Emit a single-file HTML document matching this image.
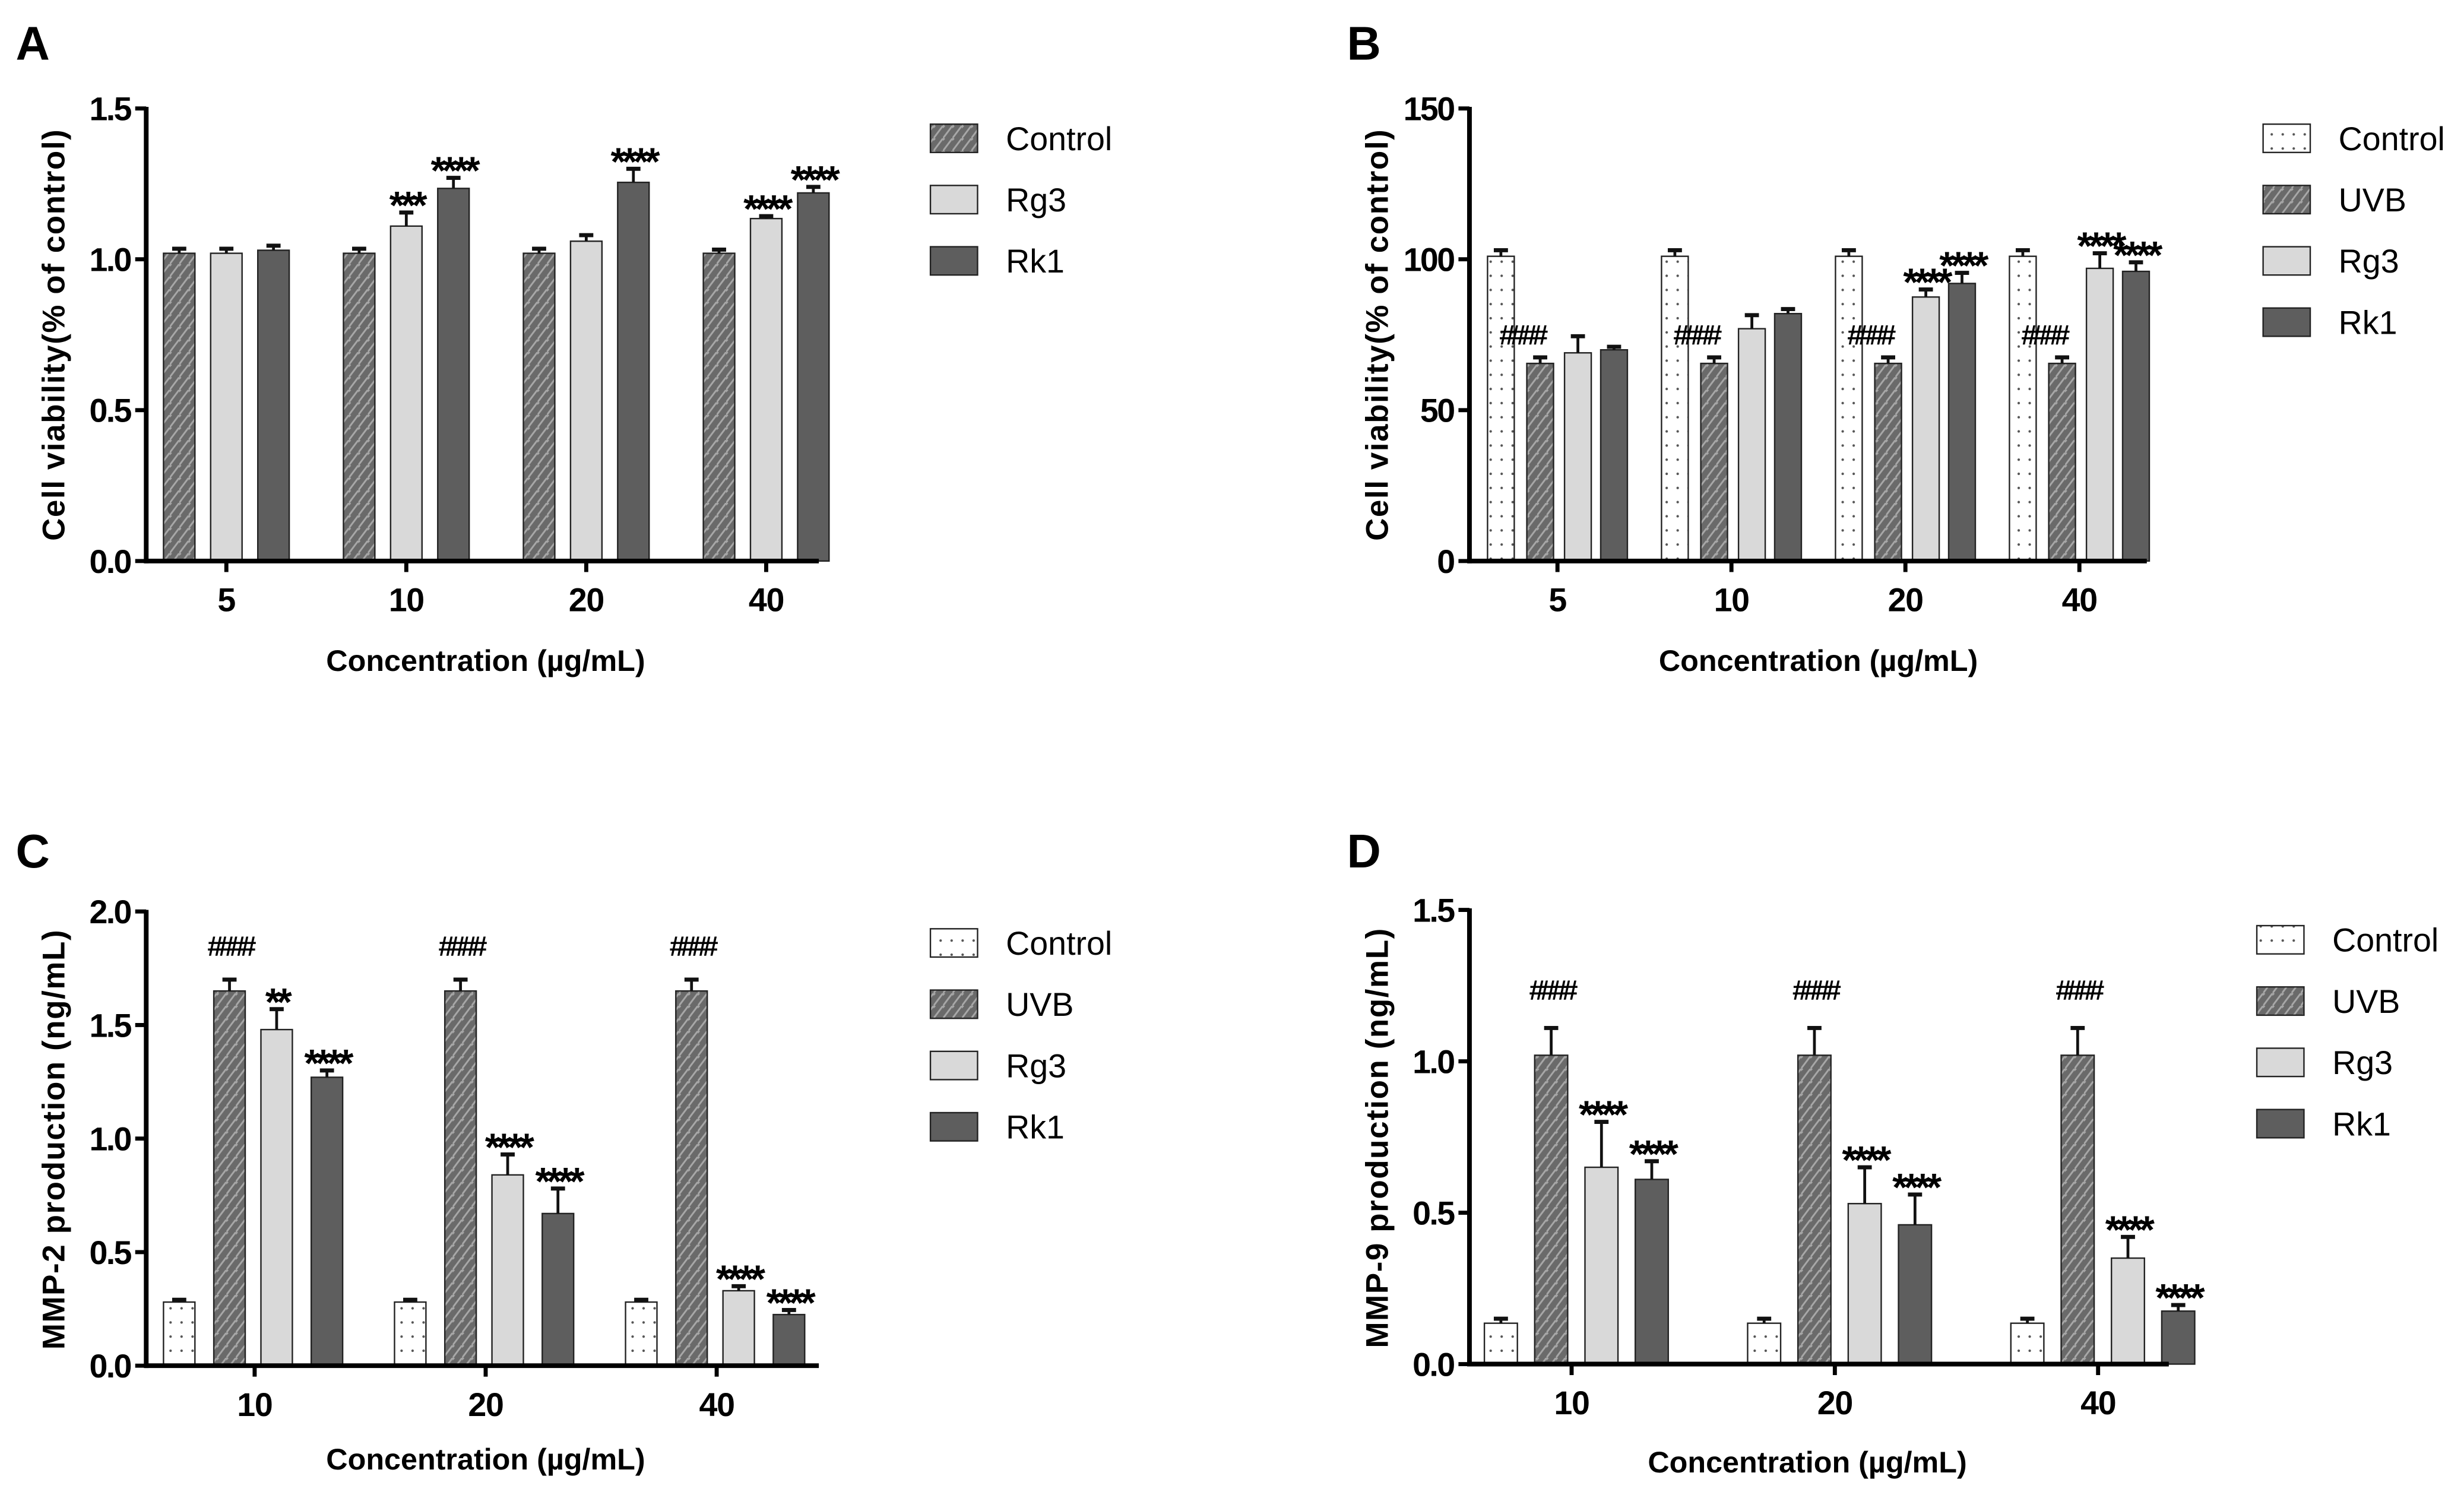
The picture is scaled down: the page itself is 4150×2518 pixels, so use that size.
<!DOCTYPE html>
<html><head><meta charset="utf-8"><style>
html,body{margin:0;padding:0;background:#fff;}
svg{display:block;}
text{font-family:"Liberation Sans",sans-serif;}
</style></head><body>
<svg id="fig" width="4150" height="2518" viewBox="0 0 1567.8 951.3" xmlns="http://www.w3.org/2000/svg">
<defs>
<pattern id="hatch" width="6" height="8" patternUnits="userSpaceOnUse">
<rect width="6" height="8" fill="#6a6a6a"/>
<path d="M0,8 L6,0 M-1,2 L1,0 M5,10 L7,8" stroke="#a8a8a8" stroke-width="1.1"/>
</pattern>
<pattern id="dots" width="7" height="9" patternUnits="userSpaceOnUse">
<rect width="7" height="9" fill="#fff"/>
<circle cx="3.5" cy="4.5" r="0.8" fill="#555"/>
</pattern>
</defs>
</svg>
<script>
// ---- Data ----
const catsA = ["5","10","20","40"];
const seriesNamesA = ["Control","Rg3","Rk1"];
const ctrlA = [1.02,1.02,1.02,1.02];
const rg3A = [1.02,1.11,1.06,1.135];
const rk1A = [1.03,1.235,1.255,1.22];
const ctrlAErr = [0.015,0.015,0.015,0.012];
const rg3AErr = [0.015,0.045,0.02,0.008];
const rk1AErr = [0.015,0.035,0.045,0.02];
const ticksA = ["0.0","0.5","1.0","1.5"];
const annA = [["","",""],["","***","****"],["","","****"],["","****","****"]];

const catsB = ["5","10","20","40"];
const seriesNamesB = ["Control","UVB","Rg3","Rk1"];
const ctrlB = [101,101,101,101];
const uvbB = [65.5,65.5,65.5,65.5];
const rg3B = [69,77,87.5,97];
const rk1B = [70,82,92,96];
const ctrlBErr = [2,2,2,2];
const uvbBErr = [2,2,2,2];
const rg3BErr = [5.5,4.5,2.5,5];
const rk1BErr = [1,1.5,3.5,3];
const ticksB = ["0","50","100","150"];
const annB = [["","####","",""],["","####","",""],["","####","****","****"],["","####","****","****"]];

const catsC = ["10","20","40"];
const seriesNamesC = ["Control","UVB","Rg3","Rk1"];
const ctrlC = [0.28,0.28,0.28];
const uvbC = [1.65,1.65,1.65];
const rg3C = [1.48,0.84,0.33];
const rk1C = [1.27,0.67,0.225];
const ctrlCErr = [0.01,0.01,0.01];
const uvbCErr = [0.05,0.05,0.05];
const rg3CErr = [0.09,0.09,0.02];
const rk1CErr = [0.03,0.11,0.02];
const ticksC = ["0.0","0.5","1.0","1.5","2.0"];
const annC = [["","####","**","****"],["","####","****","****"],["","####","****","****"]];

const catsD = ["10","20","40"];
const seriesNamesD = ["Control","UVB","Rg3","Rk1"];
const ctrlD = [0.135,0.135,0.135];
const uvbD = [1.02,1.02,1.02];
const rg3D = [0.65,0.53,0.35];
const rk1D = [0.61,0.46,0.175];
const ctrlDErr = [0.015,0.015,0.015];
const uvbDErr = [0.09,0.09,0.09];
const rg3DErr = [0.15,0.12,0.07];
const rk1DErr = [0.06,0.1,0.02];
const ticksD = ["0.0","0.5","1.0","1.5"];
const annD = [["","####","****","****"],["","####","****","****"],["","####","****","****"]];

const FILL = {Control:null, UVB:"url(#hatch)", Rg3:"#d9d9d9", Rk1:"#5e5e5e"};

const svg = document.getElementById('fig');
const NS = "http://www.w3.org/2000/svg";
function mk(tag, attrs, parent){
  const e = document.createElementNS(NS, tag);
  for (const k in attrs) e.setAttribute(k, attrs[k]);
  (parent||svg).appendChild(e);
  return e;
}

function panel(cfg){
  const g = mk('g', {});
  
  
  const yS = v => cfg.y0 - (v - cfg.ymin) / (cfg.ymax - cfg.ymin) * (cfg.y0 - cfg.y1);
  const xS = i => cfg.xc0 + i * cfg.step;
  const L = mk('text', {x:cfg.lx, y:cfg.ly, 'font-size':30, 'font-weight':'bold'}, g);
  L.textContent = cfg.letter;
  
  
  cfg.cats.forEach((c, ci) => {
    cfg.series.forEach((s, si) => {
      const v = cfg.vals[si][ci], e = cfg.errs[si][ci];
      const cx = xS(ci) + cfg.offs[si];
      const top = yS(v);
      const fill = s === "Control" ? cfg.ctrlFill : FILL[s];
      const r = mk('rect', {x:cx - cfg.bw/2, y:top, width:cfg.bw, height:cfg.y0 - top, fill:fill, stroke:'#222', 'stroke-width':0.9}, g);
      
      
      const et = yS(v + e);
      mk('line', {x1:cx, x2:cx, y1:top, y2:et, stroke:'#111', 'stroke-width':1.8}, g);
      mk('line', {x1:cx - 4.5, x2:cx + 4.5, y1:et, y2:et, stroke:'#111', 'stroke-width':2.6}, g);
      const a = cfg.ann[ci][si];
      if (a) {
        const isHash = a[0] === '#';
        const ax = cx + (isHash ? cfg.hashDx : 0);
        const ay = isHash ? et - cfg.hashDy : et + 4;
        const t = mk('text', {x:ax, y:ay, 'font-size':isHash ? 18 : 25, 'font-weight':'bold', 'text-anchor':'middle', 'letter-spacing':isHash ? -3 : -2.5}, g);
        t.textContent = a;
        
        
      }
    });
  });
  mk('line', {x1:cfg.ax, x2:cfg.ax, y1:cfg.y1 - 1, y2:cfg.y0 + 1.5, stroke:'#000', 'stroke-width':3}, g);
  mk('line', {x1:cfg.ax - 1, x2:cfg.xend, y1:cfg.y0, y2:cfg.y0, stroke:'#000', 'stroke-width':3}, g);
  cfg.ticks.forEach((tl, i) => {
    const v = cfg.ymin + i * cfg.tstep;
    const y = yS(v);
    mk('line', {x1:cfg.ax - 7, x2:cfg.ax, y1:y, y2:y, stroke:'#000', 'stroke-width':2.6}, g);
    const t = mk('text', {x:cfg.ax - 10, y:y + 7.5, 'font-size':21, 'font-weight':'bold', 'text-anchor':'end', 'letter-spacing':-1}, g);
    t.textContent = tl;
    
    
  });
  cfg.cats.forEach((c, ci) => {
    const x = xS(ci) + cfg.tickOff;
    mk('line', {x1:x, x2:x, y1:cfg.y0, y2:cfg.y0 + 7, stroke:'#000', 'stroke-width':2.6}, g);
    const t = mk('text', {x:x, y:cfg.y0 + 32, 'font-size':21, 'font-weight':'bold', 'text-anchor':'middle', 'letter-spacing':-0.5}, g);
    t.textContent = c;
    
    
  });
  const xt = mk('text', {x:cfg.xlx, y:cfg.xly, 'font-size':19, 'font-weight':'bold', 'text-anchor':'middle'}, g);
  xt.textContent = "Concentration (\u00b5g/mL)";
  
  
  const yt = mk('text', {x:0, y:0, 'font-size':20, 'font-weight':'bold', 'text-anchor':'middle', 'letter-spacing':0.6, transform:'translate(' + cfg.ylx + ',' + cfg.yly + ') rotate(-90)'}, g);
  yt.textContent = cfg.ytitle;
  
  
  cfg.series.forEach((s, si) => {
    const y = cfg.legY + si * cfg.legStep;
    const fill = s === "Control" ? cfg.ctrlFill : FILL[s];
    const r = mk('rect', {x:cfg.legX, y:y - 9, width:30, height:18, fill:fill, stroke:'#222', 'stroke-width':0.9}, g);
    
    
    const t = mk('text', {x:cfg.legX + 48, y:y + 7.5, 'font-size':21}, g);
    t.textContent = s;
    
    
  });
}

panel({letter:"A", lx:10, ly:38, cats:catsA, series:seriesNamesA,
  vals:[ctrlA, rg3A, rk1A], errs:[ctrlAErr, rg3AErr, rk1AErr], ann:annA, ticks:ticksA,
  ymin:0, ymax:1.5, tstep:0.5, y0:357, y1:69, ax:93, xend:521, xc0:144, step:114.5,
  offs:[-30,0,30], bw:20, tickOff:0, ctrlFill:"url(#hatch)", hashDx:0, hashDy:4,
  xlx:309, xly:427, ylx:41, yly:213, ytitle:"Cell viability(% of control)",
  legX:592, legY:88, legStep:39});

panel({letter:"B", lx:857, ly:38, cats:catsB, series:seriesNamesB,
  vals:[ctrlB, uvbB, rg3B, rk1B], errs:[ctrlBErr, uvbBErr, rg3BErr, rk1BErr], ann:annB, ticks:ticksB,
  ymin:0, ymax:150, tstep:50, y0:357, y1:69, ax:935, xend:1366, xc0:991, step:110.7,
  offs:[-36,-11,13,36], bw:17, tickOff:0, ctrlFill:"url(#dots)", hashDx:-12, hashDy:8,
  xlx:1157, xly:427, ylx:883, yly:213, ytitle:"Cell viability(% of control)",
  legX:1440, legY:88, legStep:39});

panel({letter:"C", lx:10, ly:552, cats:catsC, series:seriesNamesC,
  vals:[ctrlC, uvbC, rg3C, rk1C], errs:[ctrlCErr, uvbCErr, rg3CErr, rk1CErr], ann:annC, ticks:ticksC,
  ymin:0, ymax:2.0, tstep:0.5, y0:869, y1:580, ax:93, xend:521, xc0:161, step:147,
  offs:[-47,-15,15,47], bw:20, tickOff:1, ctrlFill:"url(#dots)", hashDx:0, hashDy:15,
  xlx:309, xly:935, ylx:41, yly:725, ytitle:"MMP-2 production (ng/mL)",
  legX:592, legY:600, legStep:39});

panel({letter:"D", lx:857, ly:552, cats:catsD, series:seriesNamesD,
  vals:[ctrlD, uvbD, rg3D, rk1D], errs:[ctrlDErr, uvbDErr, rg3DErr, rk1DErr], ann:annD, ticks:ticksD,
  ymin:0, ymax:1.5, tstep:0.5, y0:868, y1:579, ax:935, xend:1380, xc0:1003, step:167.5,
  offs:[-48,-16,16,48], bw:21, tickOff:-3, ctrlFill:"url(#dots)", hashDx:0, hashDy:18,
  xlx:1150, xly:937, ylx:883, yly:724, ytitle:"MMP-9 production (ng/mL)",
  legX:1436, legY:598, legStep:39});
</script>
</body></html>
